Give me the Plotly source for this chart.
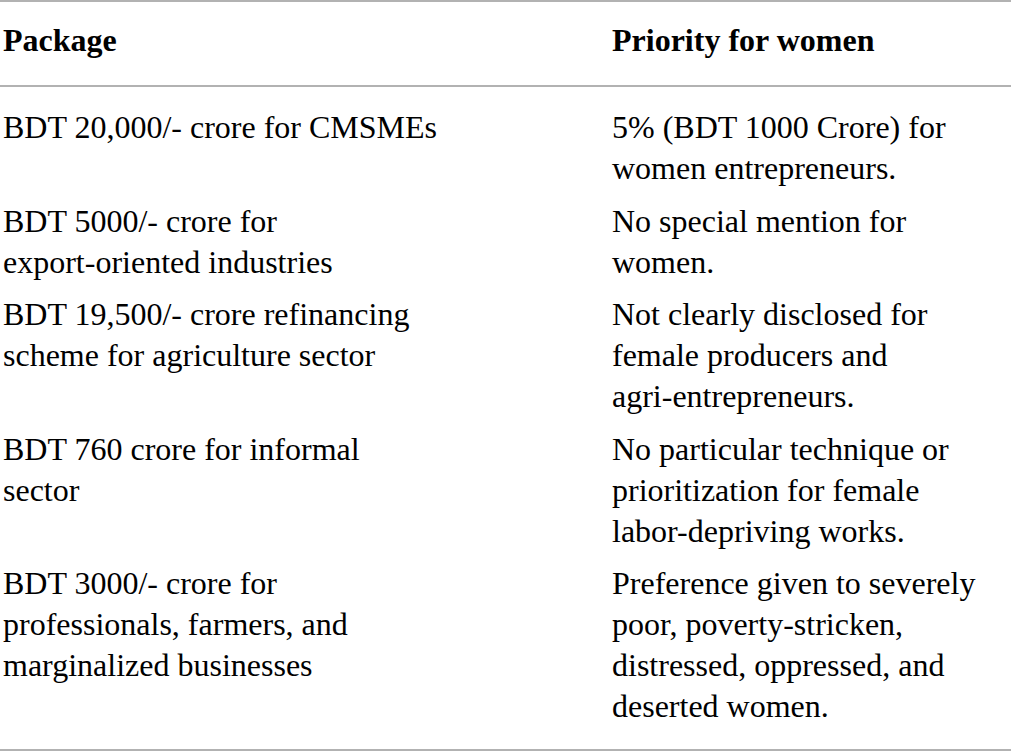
import plotly.graph_objects as go

# table content
headers = ["Package", "Priority for women"]
packages = [
    ["BDT 20,000/- crore for CMSMEs"],
    ["BDT 5000/- crore for", "export-oriented industries"],
    ["BDT 19,500/- crore refinancing", "scheme for agriculture sector"],
    ["BDT 760 crore for informal", "sector"],
    ["BDT 3000/- crore for", "professionals, farmers, and", "marginalized businesses"],
]
priorities = [
    ["5% (BDT 1000 Crore) for", "women entrepreneurs."],
    ["No special mention for", "women."],
    ["Not clearly disclosed for", "female producers and", "agri-entrepreneurs."],
    ["No particular technique or", "prioritization for female", "labor-depriving works."],
    ["Preference given to severely", "poor, poverty-stricken,",
     "distressed, oppressed, and", "deserted women."],
]

W, H = 1011, 753
col_x = [3, 612]
line_h = 41
row_gap = 11.5
first_base = 140
header_base = 53
mid_shift = 10  # baseline -> visual middle of the text line
font = "Liberation Serif"
size = 32
rule_color = "#999999"

fig = go.Figure()

# header row
fig.add_trace(go.Scatter(
    x=col_x, y=[header_base - mid_shift] * 2, mode="text",
    text=["<b>%s</b>" % h for h in headers], textposition="middle right",
    textfont=dict(family=font, size=size, color="#000000"),
    hoverinfo="skip", showlegend=False,
))

# body rows
xs, ys, txt = [], [], []
base = first_base
for pk, pr in zip(packages, priorities):
    for c, lines in enumerate([pk, pr]):
        for i, s in enumerate(lines):
            xs.append(col_x[c])
            ys.append(base + i * line_h - mid_shift)
            txt.append(s)
    base += max(len(pk), len(pr)) * line_h + row_gap

fig.add_trace(go.Scatter(
    x=xs, y=ys, mode="text", text=txt, textposition="middle right",
    textfont=dict(family=font, size=size, color="#000000"),
    hoverinfo="skip", showlegend=False,
))

for y in [1, 86, 750]:
    fig.add_shape(type="line", x0=0, x1=W, y0=y, y1=y,
                  line=dict(color=rule_color, width=1.5), layer="above")

fig.update_xaxes(range=[0, W], visible=False, fixedrange=True)
fig.update_yaxes(range=[H, 0], visible=False, fixedrange=True)
fig.update_layout(
    width=W, height=H,
    margin=dict(l=0, r=0, t=0, b=0),
    paper_bgcolor="white", plot_bgcolor="white",
)

# drop the default page margin so the table sits flush with the window
fig.write_html("out.html", config={"displayModeBar": False},
               post_script="document.body.style.margin='0';")
